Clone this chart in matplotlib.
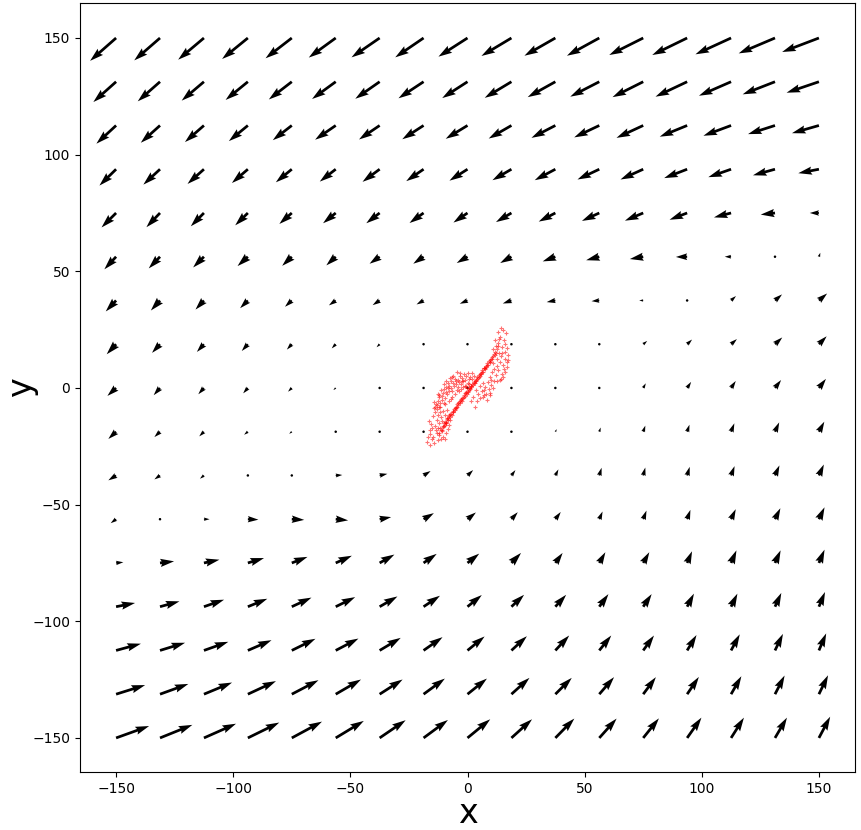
import numpy as np
import matplotlib
matplotlib.use("Agg")
import matplotlib.pyplot as plt

# grid of the vector field (17 x 17)
grid_x = np.linspace(-150, 150, 17)
grid_y = np.linspace(150, -150, 17)   # rows listed top -> bottom

# arrow components, one row per grid_y value
U = [
    [-11.1, -11.0, -11.0, -11.0, -11.2, -11.5, -12.0, -12.1, -12.4, -12.8, -13.2, -13.8, -14.5, -14.9, -15.2, -15.5, -15.7],
    [-9.7, -9.5, -9.5, -9.5, -9.8, -10.1, -10.4, -10.7, -10.8, -11.4, -11.8, -12.4, -13.1, -13.5, -13.7, -13.8, -13.8],
    [-8.4, -8.2, -8.1, -8.1, -8.1, -8.8, -8.8, -9.1, -9.3, -9.7, -10.2, -10.7, -11.4, -11.7, -11.8, -11.5, -11.5],
    [-7.1, -7.1, -7.0, -6.8, -6.8, -6.8, -7.3, -7.4, -7.7, -8.1, -8.8, -9.3, -9.7, -9.8, -9.7, -9.4, -8.8],
    [-6.2, -5.8, -5.6, -5.4, -5.3, -5.4, -5.7, -6.0, -6.0, -6.6, -7.1, -7.4, -7.8, -7.5, -7.3, -6.1, -3.9],
    [-5.0, -4.8, -4.6, -4.4, -4.1, -4.0, -4.3, -4.4, -4.6, -4.8, -5.4, -5.6, -5.7, -4.8, -2.7, -0.6, 0.6],
    [-4.4, -3.9, -3.6, -3.3, -2.9, -2.9, -3.0, -3.0, -3.3, -3.7, -3.7, -3.3, -1.7, -0.2, 2.1, 3.0, 3.5],
    [-4.0, -3.4, -3.0, -2.6, -2.1, -1.7, -1.3, -0.9, -0.9, -0.9, 0.0, 0.9, 1.7, 2.1, 2.5, 3.1, 3.3],
    [-3.7, -2.7, -2.4, -2.0, -1.6, -1.0, -0.6, 0.0, 0.2, 0.2, 0.3, 0.4, 1.1, 1.7, 2.0, 2.6, 3.0],
    [-3.3, -2.4, -2.0, -1.6, -1.1, -0.6, -0.3, 0.3, 0.4, 0.4, 0.6, 0.6, 0.9, 1.0, 1.4, 1.8, 2.3],
    [-3.3, -2.4, -1.7, -0.4, 0.3, 2.8, 3.3, 3.0, 2.4, 1.7, 1.3, 1.0, 0.9, 1.1, 1.5, 1.9, 2.1],
    [-2.3, 0.1, 2.4, 4.5, 5.3, 5.3, 4.9, 4.4, 3.6, 2.7, 2.3, 1.4, 1.4, 1.4, 2.0, 2.3, 2.4],
    [3.1, 6.0, 6.6, 6.9, 6.7, 6.9, 6.3, 5.6, 5.0, 4.1, 3.1, 2.6, 2.6, 2.1, 2.3, 2.4, 2.4],
    [8.1, 8.3, 8.6, 8.3, 8.4, 8.3, 7.6, 7.0, 6.1, 5.4, 4.6, 3.9, 3.6, 2.9, 2.7, 2.7, 2.6],
    [10.6, 10.7, 10.4, 10.1, 10.1, 9.7, 9.0, 8.1, 7.3, 6.6, 5.9, 5.1, 4.6, 4.0, 3.7, 3.4, 3.1],
    [12.4, 12.1, 12.0, 12.0, 11.4, 10.8, 9.8, 9.1, 8.3, 7.7, 7.0, 6.3, 5.4, 5.0, 4.4, 4.1, 3.9],
    [14.1, 13.8, 13.7, 13.4, 12.9, 12.0, 11.1, 10.4, 9.7, 8.8, 8.1, 7.4, 6.7, 6.1, 5.5, 5.1, 4.8],
]
V = [
    [-9.8, -9.6, -9.3, -9.0, -8.7, -8.4, -8.3, -8.3, -8.0, -7.7, -7.6, -7.6, -7.3, -7.3, -7.0, -6.6, -6.0],
    [-8.7, -8.4, -8.1, -7.8, -7.6, -7.4, -7.3, -7.1, -7.0, -6.9, -6.6, -6.4, -6.6, -6.4, -6.0, -5.4, -4.7],
    [-7.8, -7.4, -7.1, -6.7, -6.3, -6.1, -6.0, -5.9, -5.7, -5.6, -5.3, -5.1, -5.3, -4.8, -4.4, -3.7, -3.3],
    [-7.0, -6.6, -6.3, -5.9, -5.6, -5.3, -5.4, -5.1, -4.9, -4.7, -4.7, -4.4, -4.4, -3.8, -3.4, -2.6, -1.7],
    [-6.2, -6.1, -5.7, -5.3, -4.7, -4.4, -4.4, -4.3, -4.1, -3.9, -3.7, -3.4, -3.3, -2.9, -1.9, -0.7, 0.0],
    [-5.4, -5.0, -4.6, -4.0, -3.9, -3.7, -3.0, -3.0, -2.7, -2.7, -2.0, -1.5, -1.0, -0.1, 0.0, 0.8, 1.7],
    [-4.7, -4.3, -3.9, -3.3, -2.7, -2.1, -2.0, -1.7, -1.4, -1.3, -0.7, -0.3, 0.0, 0.3, 1.9, 2.6, 3.0],
    [-4.3, -3.7, -3.3, -2.9, -2.3, -1.8, -1.3, -0.4, -0.4, 0.0, 0.0, 0.6, 1.4, 2.0, 2.2, 2.9, 3.4],
    [-3.4, -3.1, -2.7, -2.3, -1.6, -0.9, -0.4, 0.0, 0.2, 0.2, 0.3, 0.6, 2.0, 2.6, 3.0, 3.4, 3.9],
    [-3.1, -2.3, -2.0, -1.3, -0.9, -0.3, 0.0, 0.2, 0.4, 0.6, 1.1, 1.8, 2.6, 3.0, 3.6, 4.0, 4.3],
    [-2.1, -1.7, -1.4, -0.4, 0.0, 0.2, 0.7, 1.9, 2.3, 2.3, 2.6, 3.3, 3.4, 3.7, 4.0, 4.3, 4.7],
    [-1.7, 0.0, 0.0, -0.2, -0.3, -0.5, 0.9, 2.6, 2.9, 3.0, 3.1, 3.3, 3.7, 4.0, 4.3, 4.7, 5.1],
    [0.3, 0.7, 1.4, 2.1, 2.6, 3.1, 3.6, 3.9, 4.0, 4.3, 4.3, 4.6, 4.6, 5.0, 5.4, 5.4, 5.7],
    [1.6, 2.3, 3.0, 3.4, 3.9, 4.1, 4.4, 4.7, 5.0, 5.1, 5.1, 5.4, 5.4, 5.6, 5.6, 5.9, 6.3],
    [2.9, 3.3, 3.7, 4.4, 5.0, 5.1, 5.4, 5.7, 6.0, 6.1, 6.4, 6.4, 6.4, 6.6, 6.9, 7.1, 7.3],
    [3.9, 4.4, 5.0, 5.6, 6.0, 6.3, 6.3, 6.7, 6.7, 7.0, 7.0, 7.3, 7.3, 7.4, 7.7, 8.0, 8.1],
    [5.1, 5.6, 6.1, 6.6, 7.0, 7.3, 7.6, 7.7, 8.0, 8.0, 8.3, 8.3, 8.4, 8.7, 8.7, 8.7, 9.1],
]

# red data points (x, y)
pts_x = [
    # dense central streak
    -12.0, -11.4, -10.8, -10.3, -9.8, -9.5, -9.0, -8.6, -8.2, -7.9, -7.5, -7.1, -6.8, -6.4, -6.0, -5.7, -5.3,
    -5.0, -4.6, -4.3, -3.9, -3.6, -3.2, -2.9, -2.5, -2.2, -1.8, -1.5, -1.1, -0.8, -0.4, 0.0, 0.3, 0.7, 1.0,
    1.4, 1.7, 2.1, 2.4, 2.8, 3.1, 3.5, 3.8, 4.2, 4.5, 4.9, 5.2, 5.6, 5.9, 6.3, 6.6, 7.0, 7.3, 7.7, 8.0, 8.4,
    8.7, 9.1, 9.5, 9.9, 10.3, 10.8, 11.3, 11.9, 12.5,
    -11.7, -10.6, -9.3, -8.4, -7.3, -6.2, -5.1, -4.0, -2.8, -1.7, -0.6, 0.5, 1.6, 2.7, 3.9, 5.0, 6.1, 7.2,
    8.3, 9.4, 10.6, 11.6, -10.0, -7.7, -5.5, -3.3, -1.0, 1.2, 3.3, 5.4, 7.5, 9.7, 12.2, 13.0,
    # upper-left blob
    -13.5, -12.8, -12.0, -11.0, -10.5, -10.0, -9.2, -8.5, -7.8, -7.0, -6.3, -5.5, -4.6, -4.0, -3.0, -2.2,
    -1.5, -0.5, 0.3, 1.2, 2.0, -11.8, -10.8, -9.6, -8.8, -8.0, -7.2, -6.5, -5.8, -5.0, -4.2, -3.5, -2.6,
    -1.8, -0.9, 0.0, -13.0, -12.3, -9.5, -8.0, -6.8, -5.2, -3.8, -2.8, -1.2, 0.8, 3.2, 1.5, 2.5, 4.5, 6.0,
    8.2, 7.0, 9.5, 5.3, 3.5,
    -14.5, -13.8, -12.5, -11.5, -10.2, -9.0, -7.5, -6.0, -4.8, -3.2, -2.0, -0.8, 0.5, 1.8, -12.2, -10.0,
    -8.2, -6.6, -4.4, -2.4, -0.2, 2.8, 4.0, 6.8, -9.0, -7.0,
    # lower-left tail
    -16.0, -15.0, -14.6, -16.0, -13.1, -10.3, -11.7, -7.5, -14.0, -13.2, -12.4, -11.5, -15.5, -14.8, -13.8,
    -12.8, -12.0, -11.2, -10.5, -9.5, -8.8, -9.2, -8.3, -7.8, -16.8, -15.8, -12.6, -10.8, -9.8, -14.2,
    -17.2, -15.2, -13.6, -12.2, -11.0, -10.0, -9.0, -16.4, -14.4, -13.0, -11.8, -8.6,
    # right blob
    11.0, 16.7, 13.9, 9.6, 16.0, 13.1, 15.3, 14.0, 16.5, 12.2, 14.8, 15.8, 16.9, 14.5, 13.5, 12.5, 13.2,
    14.6, 15.2, 12.0, 11.2, 10.0, 8.8, 7.5, 6.5, 5.5, 10.5, 12.8, 15.5, 17.3, 11.8, 13.8, 9.0, 16.2, 12.9, 14.3,
    15.0, 16.0, 17.5, 14.2, 12.4, 11.0, 10.2, 8.0, 13.6, 15.7, 16.8, 11.5, 10.8, 7.0, 9.8, 14.9,
]
pts_y = [
    -19.5, -18.2, -17.9, -16.4, -16.0, -14.6, -14.9, -13.4, -13.8, -12.2, -12.6, -11.0, -11.6, -10.1, -10.5,
    -9.0, -9.4, -8.1, -8.3, -7.0, -7.4, -6.1, -6.3, -5.0, -5.4, -4.1, -4.4, -3.1, -3.3, -2.0, -2.5, -1.2,
    -1.6, -0.2, -0.6, 0.7, 0.3, 1.6, 1.2, 2.6, 2.2, 3.5, 3.0, 4.6, 4.1, 5.5, 5.0, 6.6, 6.0, 7.6, 7.0, 8.5,
    8.0, 9.6, 9.1, 10.6, 10.0, 11.5, 11.2, 12.6, 12.3, 13.8, 14.6, 15.5, 16.8,
    -17.0, -16.9, -15.2, -13.0, -11.2, -9.8, -8.6, -6.6, -4.6, -3.8, -1.8, -0.9, 0.9, 2.0, 3.8, 4.8, 6.8, 8.4,
    9.9, 11.0, 13.2, 14.0, -15.0, -11.8, -8.8, -5.6, -2.1, 0.0, 3.2, 5.8, 8.7, 12.0, 15.0, 17.8,
    -7.0, -5.5, -4.0, -3.5, -2.0, -0.5, 0.5, 2.0, 1.0, 3.0, 2.2, 4.0, 6.8, 3.5, 5.0, 4.2, 6.0, 5.2, 6.3,
    4.8, 3.8, -6.5, -5.0, -4.2, -2.8, -1.2, -0.2, -1.5, 0.8, 1.8, 0.6, 2.5, 1.5, 2.8, 3.5, 2.2, -9.0, -8.2,
    -7.0, -5.5, -3.8, -2.5, -1.5, -0.5, 0.8, 1.5, -8.0, -5.5, -3.8, -2.5, -1.5, -5.1, -3.0, -2.0, -4.5, -1.0,
    -6.0, -8.2, -2.8, -1.0, 1.5, -1.8, 4.2, 5.2, 2.8, 6.5, 0.2, 1.0, 4.0, 6.5, -3.0, -6.5, 0.0, 4.6, -0.8,
    3.0, -0.2, 5.0, -5.8, -4.0, 3.2, -4.6,
    -24.4, -22.0, -20.9, -18.0, -13.7, -20.9, -8.0, -13.7, -16.5, -19.2, -22.5, -21.8, -15.5, -12.0, -10.5,
    -11.8, -15.0, -12.5, -10.0, -11.5, -9.5, -19.5, -17.5, -15.8, -21.2, -19.8, -17.2, -14.0, -21.8, -23.5,
    -23.0, -17.0, -18.2, -20.0, -18.5, -16.2, -14.5, -14.2, -8.5, -7.2, -10.2, -12.8,
    10.6, 9.1, 3.4, 4.8, 15.6, 19.1, 24.9, 22.0, 23.5, 18.0, 17.5, 12.5, 11.0, 13.8, 15.2, 12.5, 7.8, 6.2,
    4.5, 5.5, 2.8, 1.2, 2.5, 0.5, 2.2, 0.8, 7.0, 9.5, 8.0, 14.0, 20.5, 11.2, -0.5, 19.0, 24.2, 25.5,
    10.0, 6.8, 12.2, 4.0, 3.0, 0.0, 3.5, -2.5, 21.0, 20.5, 17.0, 8.2, 16.5, -1.0, -3.2, 15.0,
]

X, Y = np.meshgrid(grid_x, grid_y)

fig = plt.figure(figsize=(8.61, 8.30), dpi=100)
ax = fig.add_axes([80 / 861, 58 / 830, 775 / 861, 769 / 830])
ax.quiver(X, Y, np.array(U), np.array(V), angles='xy', scale_units='xy', scale=1)
ax.scatter(pts_x, pts_y, marker='+', c='red', s=10, linewidths=0.8, alpha=0.55)
ax.set_xlim(-165.4, 165.4)
ax.set_ylim(-164.6, 165.0)
ax.set_xlabel('x', fontsize=24, labelpad=1)
ax.set_ylabel('y', fontsize=24, labelpad=-4)
fig.savefig('out.png', dpi=100)
